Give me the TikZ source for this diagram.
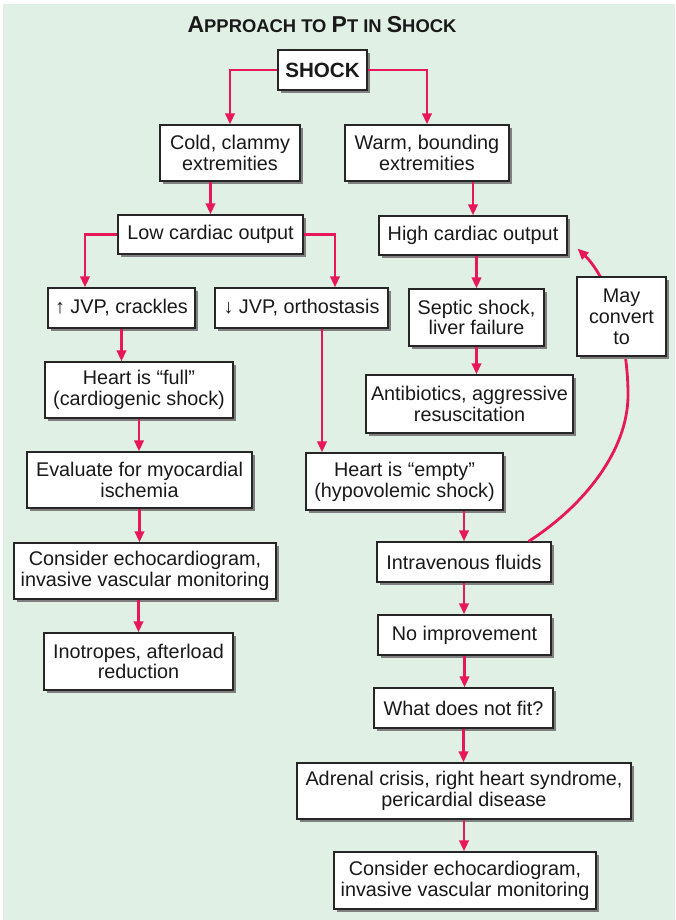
\documentclass[tikz,border=0pt]{standalone}
\usepackage{fontspec}
\setmainfont{Liberation Sans}
\usepackage{tikz}
\usetikzlibrary{arrows.meta,shadows,calc}

\definecolor{bgmint}{RGB}{224,240,229}
\definecolor{arrred}{RGB}{232,22,90}
\newcommand{\capsc}[2]{{\fontsize{11.5}{14}\selectfont #1}{\fontsize{9.2}{14}\selectfont #2}}

\tikzset{
  box/.style 2 args={draw=black!85, line width=0.6pt, fill=white, align=center,
    text=black!90, inner sep=2pt, minimum width=#1, minimum height=#2,
    drop shadow={shadow xshift=1.3pt, shadow yshift=-1.3pt, fill=black!50, opacity=1}},
  arr/.style={draw=arrred, line width=1.4pt, -{Triangle[length=5.5pt,width=4.6pt]}}
}

\begin{document}
\begin{tikzpicture}[x=0.5pt, y=-0.5pt, font=\fontsize{9.9}{10.4}\selectfont]
    \useasboundingbox (0,0) rectangle (675,920);
    \fill[white] (0,0) rectangle (675,920);
    \fill[bgmint] (3,4) rectangle (675,920);

    \node[text=black!90, font=\bfseries] (title) at (322,25)
      {\capsc{A}{PPROACH TO }\capsc{P}{T IN }\capsc{S}{HOCK}};

    % top of the tree
    \node[box={44.5pt}{20pt}, font=\fontsize{10.3}{12}\selectfont\bfseries] (shock) at (322.5,70) {SHOCK};
    \node[box={70pt}{28pt}] (cold) at (230,153) {Cold, clammy\\extremities};
    \node[box={82pt}{28pt}] (warm) at (427,153) {Warm, bounding\\extremities};
    \node[box={92.5pt}{19.5pt}] (low) at (210.5,234.5) {Low cardiac output};
    \node[box={94pt}{19.5pt}] (high) at (473,235.5) {High cardiac output};

    % cold side
    \node[box={73.5pt}{20pt}] (upjvp) at (121.5,308) {↑ JVP, crackles};
    \node[box={86.5pt}{20pt}] (downjvp) at (301.5,308) {↓ JVP, orthostasis};
    \node[box={94pt}{28pt}] (full) at (139,390) {Heart is “full”\\(cardiogenic shock)};
    \node[box={112.5pt}{28pt}] (evaluate) at (139.5,480) {Evaluate for myocardial\\ischemia};
    \node[box={131pt}{28pt}] (echoL) at (145,571) {Consider echocardiogram,\\invasive vascular monitoring};
    \node[box={94.5pt}{28.5pt}] (ino) at (138.5,661.5) {Inotropes, afterload\\reduction};

    % warm side
    \node[box={67.5pt}{28.5pt}] (septic) at (476.5,317.5) {Septic shock,\\liver failure};
    \node[box={103.5pt}{29pt}] (antib) at (469.5,404) {Antibiotics, aggressive\\resuscitation};

    % empty heart
    \node[box={98.5pt}{28.5pt}] (empty) at (404.5,481.5) {Heart is “empty”\\(hypovolemic shock)};
    \node[box={87pt}{20pt}] (iv) at (464,562) {Intravenous fluids};
    \node[box={86.5pt}{20pt}] (noimp) at (464.5,635) {No improvement};
    \node[box={89.5pt}{20pt}] (fit) at (463.5,708) {What does not fit?};
    \node[box={167pt}{28pt}] (adrenal) at (464,791) {Adrenal crisis, right heart syndrome,\\pericardial disease};
    \node[box={131pt}{28.5pt}] (echoR) at (465,880.5) {Consider echocardiogram,\\invasive vascular monitoring};

    % connectors
    \draw[arr] (shock.west) -| (cold.north);
    \draw[arr] (shock.east) -| (warm.north);
    \draw[arr] (cold.south -| low.north) -- (low.north);
    \draw[arr] (warm.south -| high.north) -- (high.north);
    \draw[arr] (low.west) -| ([xshift=-18.25pt]upjvp.north);
    \draw[arr] (low.east) -| ([xshift=16.75pt]downjvp.north);
    \draw[arr] (upjvp.south) -- (upjvp.south |- full.north);
    \draw[arr] (full.south) -- (full.south |- evaluate.north);
    \draw[arr] (evaluate.south) -- (evaluate.south |- echoL.north);
    \draw[arr] (ino.north |- echoL.south) -- (ino.north);
    \draw[arr] ([xshift=10.25pt]downjvp.south) -- ([xshift=10.25pt]downjvp.south |- empty.north);
    \draw[arr] (septic.north |- high.south) -- (septic.north);
    \draw[arr] (septic.south) -- (septic.south |- antib.north);
    \draw[arr] (iv.north |- empty.south) -- (iv.north);
    \draw[arr] (iv.south) -- (iv.south |- noimp.north);
    \draw[arr] (noimp.south) -- (noimp.south |- fit.north);
    \draw[arr] (fit.south) -- (fit.south |- adrenal.north);
    \draw[arr] (adrenal.south) -- (adrenal.south |- echoR.north);

    % loop back to high output, runs behind the label box
    \coordinate (bend) at (628,395);
    \draw[arr] ([xshift=-11.5pt]iv.north east) .. controls (585,505) and (628,450) .. (bend)
      .. controls (628,330) and (605,275) .. ([xshift=5pt,yshift=3.5pt]high.south east);
    \node[box={44.5pt}{39.5pt}] (may) at (621.5,316.5) {May\\convert\\to};
\end{tikzpicture}
\end{document}
